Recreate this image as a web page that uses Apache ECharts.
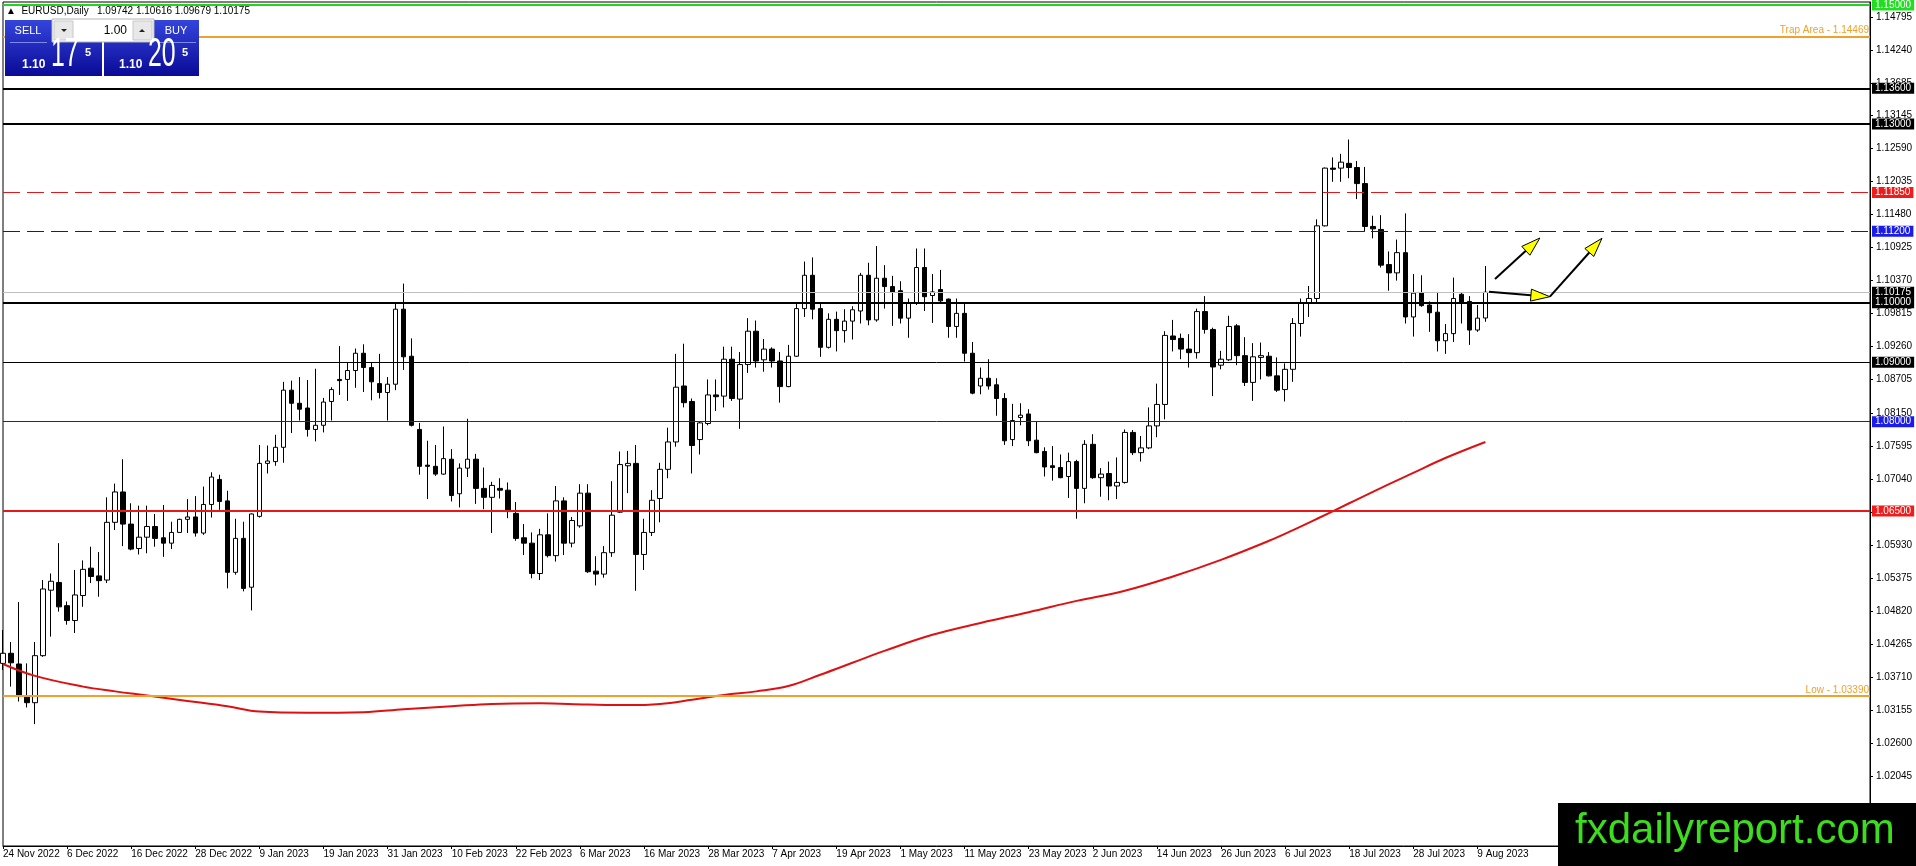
<!DOCTYPE html>
<html>
<head>
<meta charset="utf-8">
<title>EURUSD Daily</title>
<script src="https://cdn.jsdelivr.net/npm/echarts@6.0.0/dist/echarts.min.js"></script>
<style>
  html, body { margin: 0; padding: 0; background: #fff; }
  #main { width: 1916px; height: 866px; }
</style>
</head>
<body>
<div id="main"></div>
<script>
// EURUSD daily candles, 24 Nov 2022 .. 10 Aug 2023
var openPrices = [
  1.0394,1.0411,1.0393,1.0339,1.0328,1.0407,1.0517,1.0530,1.0491,1.0466,
  1.0508,1.0554,1.0541,1.0534,1.0631,1.0682,1.0628,1.0587,1.0606,1.0624,
  1.0605,1.0596,1.0614,1.0636,1.0640,1.0613,1.0661,1.0703,1.0667,1.0547,
  1.0604,1.0522,1.0641,1.0730,1.0733,1.0757,1.0853,1.0831,1.0823,1.0787,
  1.0794,1.0834,1.0871,1.0871,1.0886,1.0915,1.0891,1.0864,1.0849,1.0863,
  1.0989,1.0910,1.0787,1.0727,1.0725,1.0712,1.0737,1.0679,1.0722,1.0737,
  1.0688,1.0673,1.0688,1.0685,1.0646,1.0605,1.0596,1.0545,1.0610,1.0575,
  1.0667,1.0596,1.0625,1.0680,1.0549,1.0544,1.0580,1.0648,1.0726,1.0730,
  1.0577,1.0614,1.0671,1.0720,1.0766,1.0860,1.0834,1.0770,1.0797,1.0845,
  1.0843,1.0905,1.0838,1.0896,1.0952,1.0904,1.0922,1.0902,1.0859,1.0910,
  1.0990,1.1046,1.0990,1.0925,1.0972,1.0953,1.0969,1.0986,1.1046,1.0971,
  1.1041,1.1027,1.1020,1.0974,1.1000,1.1059,1.1012,1.1022,1.1006,1.0960,
  1.0982,1.0915,1.0860,1.0873,1.0862,1.0839,1.0770,1.0807,1.0813,1.0769,
  1.0750,1.0726,1.0723,1.0708,1.0733,1.0688,1.0762,1.0706,1.0713,1.0692,
  1.0698,1.0782,1.0748,1.0756,1.0793,1.0829,1.0944,1.0940,1.0922,1.0916,
  1.0985,1.0955,1.0895,1.0904,1.0961,1.0911,1.0866,1.0908,1.0910,1.0877,
  1.0854,1.0888,1.0965,1.1000,1.1007,1.1129,1.1226,1.1226,1.1234,1.1227,
  1.1200,1.1128,1.1123,1.1064,1.1050,1.1084,1.0976,1.1017,1.0996,1.0984,
  1.0936,1.0948,1.1014,1.1002,1.0954,1.09742
];
var highPrices = [
  1.0450,1.0430,1.0497,1.0394,1.0430,1.0534,1.0545,1.0596,1.0498,1.0551,
  1.0567,1.0590,1.0581,1.0673,1.0696,1.0737,1.0663,1.0659,1.0659,1.0645,
  1.0660,1.0632,1.0637,1.0670,1.0675,1.0691,1.0715,1.0711,1.0684,1.0637,
  1.0632,1.0646,1.0761,1.0760,1.0778,1.0867,1.0869,1.0875,1.0870,1.0889,
  1.0840,1.0858,1.0927,1.0899,1.0923,1.0930,1.0899,1.0914,1.0875,1.0999,
  1.1032,1.0940,1.0798,1.0768,1.0761,1.0792,1.0754,1.0730,1.0805,1.0746,
  1.0723,1.0699,1.0705,1.0698,1.0665,1.0628,1.0614,1.0620,1.0646,1.0692,
  1.0673,1.0640,1.0695,1.0695,1.0574,1.0591,1.0700,1.0750,1.0751,1.0761,
  1.0637,1.0685,1.0731,1.0790,1.0914,1.0931,1.0839,1.0800,1.0871,1.0871,
  1.0926,1.0926,1.0917,1.0974,1.0970,1.0939,1.0925,1.0917,1.0929,1.0998,
  1.1069,1.1076,1.0998,1.0982,1.0985,1.0989,1.0994,1.1050,1.1067,1.1095,
  1.1063,1.1045,1.1036,1.1007,1.1091,1.1091,1.1048,1.1055,1.1007,1.1007,
  1.0999,1.0934,1.0891,1.0905,1.0873,1.0848,1.0830,1.0831,1.0821,1.0800,
  1.0757,1.0759,1.0745,1.0748,1.0736,1.0769,1.0779,1.0722,1.0733,1.0740,
  1.0787,1.0786,1.0776,1.0824,1.0864,1.0952,1.0971,1.0948,1.0947,1.0990,
  1.1011,1.0958,1.0919,1.0978,1.0964,1.0942,1.0932,1.0933,1.0917,1.0908,
  1.0898,1.0974,1.1007,1.1028,1.1140,1.1227,1.1244,1.1250,1.1274,1.1238,
  1.1228,1.1146,1.1147,1.1086,1.1106,1.1150,1.1048,1.1046,1.1002,1.1018,
  1.0964,1.1042,1.1017,1.1011,1.0996,1.10616
];
var lowPrices = [
  1.0383,1.0355,1.0330,1.0320,1.0292,1.0405,1.0439,1.0481,1.0459,1.0445,
  1.0489,1.0529,1.0506,1.0529,1.0618,1.0591,1.0584,1.0577,1.0579,1.0590,
  1.0573,1.0586,1.0614,1.0613,1.0607,1.0610,1.0639,1.0652,1.0520,1.0543,
  1.0515,1.0483,1.0639,1.0713,1.0726,1.0731,1.0781,1.0802,1.0775,1.0767,
  1.0782,1.0802,1.0845,1.0835,1.0857,1.0850,1.0836,1.0839,1.0802,1.0853,
  1.0887,1.0792,1.0711,1.0670,1.0709,1.0711,1.0666,1.0656,1.0707,1.0662,
  1.0653,1.0613,1.0671,1.0638,1.0600,1.0576,1.0537,1.0534,1.0572,1.0565,
  1.0576,1.0589,1.0622,1.0546,1.0525,1.0538,1.0573,1.0647,1.0680,1.0516,
  1.0551,1.0608,1.0631,1.0705,1.0758,1.0824,1.0713,1.0745,1.0794,1.0818,
  1.0824,1.0835,1.0788,1.0882,1.0891,1.0884,1.0891,1.0832,1.0858,1.0909,
  1.0976,1.0972,1.0909,1.0923,1.0918,1.0933,1.0938,1.0965,1.0962,1.0968,
  1.0990,1.0961,1.0965,1.0941,1.0996,1.0986,1.0966,1.1000,1.0941,1.0941,
  1.0901,1.0846,1.0846,1.0854,1.0810,1.0761,1.0759,1.0794,1.0759,1.0747,
  1.0708,1.0701,1.0705,1.0672,1.0637,1.0663,1.0704,1.0674,1.0668,1.0670,
  1.0696,1.0744,1.0733,1.0754,1.0774,1.0804,1.0918,1.0905,1.0891,1.0906,
  1.0948,1.0843,1.0888,1.0902,1.0895,1.0860,1.0835,1.0871,1.0876,1.0850,
  1.0834,1.0867,1.0943,1.0976,1.1000,1.1128,1.1203,1.1203,1.1209,1.1174,
  1.1119,1.1108,1.1059,1.1020,1.1037,1.0965,1.0943,1.0993,1.0951,1.0918,
  1.0914,1.0934,1.0965,1.0929,1.0951,1.09679
];
var closePrices = [
  1.0411,1.0395,1.0341,1.0328,1.0407,1.0519,1.0532,1.0489,1.0466,1.0509,
  1.0552,1.0540,1.0533,1.0631,1.0682,1.0628,1.0586,1.0606,1.0624,1.0604,
  1.0596,1.0614,1.0636,1.0640,1.0613,1.0661,1.0707,1.0666,1.0547,1.0604,
  1.0520,1.0645,1.0730,1.0734,1.0757,1.0853,1.0831,1.0821,1.0787,1.0794,
  1.0833,1.0854,1.0869,1.0886,1.0915,1.0891,1.0867,1.0849,1.0863,1.0989,
  1.0909,1.0794,1.0725,1.0725,1.0712,1.0738,1.0676,1.0722,1.0737,1.0688,
  1.0673,1.0693,1.0685,1.0649,1.0604,1.0596,1.0545,1.0610,1.0575,1.0667,
  1.0596,1.0634,1.0680,1.0548,1.0544,1.0580,1.0643,1.0728,1.0730,1.0577,
  1.0614,1.0668,1.0720,1.0766,1.0858,1.0832,1.0760,1.0798,1.0845,1.0842,
  1.0905,1.0839,1.0896,1.0952,1.0902,1.0922,1.0902,1.0859,1.0910,1.0990,
  1.1046,1.0989,1.0925,1.0972,1.0953,1.0969,1.0988,1.1046,1.0971,1.1041,
  1.1027,1.1017,1.0974,1.0999,1.1059,1.1010,1.1018,1.1003,1.0960,1.0982,
  1.0915,1.0848,1.0873,1.0860,1.0839,1.0768,1.0802,1.0811,1.0768,1.0748,
  1.0724,1.0723,1.0706,1.0733,1.0688,1.0762,1.0706,1.0712,1.0692,1.0698,
  1.0782,1.0748,1.0756,1.0793,1.0829,1.0945,1.0938,1.0922,1.0916,1.0985,
  1.0955,1.0892,1.0905,1.0960,1.0911,1.0866,1.0909,1.0911,1.0877,1.0853,
  1.0888,1.0965,1.0999,1.1007,1.1129,1.1226,1.1224,1.1236,1.1227,1.1200,
  1.1128,1.1124,1.1063,1.1050,1.1084,1.0976,1.1016,1.0995,1.0983,1.0936,
  1.0948,1.1007,1.1000,1.0954,1.0974,1.10175
];

// red moving average, read at a few bars
var maIndex = [0,4,10,14,18,23,28,32,38,45,50,56,61,67,73,78,82,86,90,94,98,102,106,110,116,122,128,134,140,146,152,158,161,164,168,172,176,180,185];
var maValue = [1.0393,1.0373,1.0355,1.0347,1.0340,1.0331,1.0322,1.0313,1.0311,1.0312,1.0317,1.0322,1.0326,1.0327,1.0325,1.0324,1.0326,1.0333,1.0341,1.0347,1.0356,1.0375,1.0395,1.0415,1.0442,1.0462,1.0480,1.0499,1.0516,1.0540,1.0568,1.0600,1.0618,1.0637,1.0663,1.0689,1.0714,1.0739,1.0766];

// horizontal levels drawn on the chart
var levelPrices = [1.15000, 1.14469, 1.13600, 1.13000, 1.11850, 1.11200, 1.10175, 1.10000, 1.09000, 1.08000, 1.06500, 1.03390];
var levelNames = ['', 'Trap Area - 1.14469', '', '', '', '', '', '', '', '', '', 'Low - 1.03390'];

// price scale labels on the right
var yTickValues = [1.14795, 1.14240, 1.13685, 1.13145, 1.12590, 1.12035, 1.11480, 1.10925, 1.10370, 1.09815,
  1.09260, 1.08705, 1.08150, 1.07595, 1.07040, 1.06485, 1.05930, 1.05375, 1.04820, 1.04265,
  1.03710, 1.03155, 1.02600, 1.02045];

// arrows: [bar from, price from, bar to, price to]
var arrowLines = [
  [186.2, 1.10397, 191.8, 1.11086],
  [185.45, 1.10184, 193.05, 1.10100],
  [193.05, 1.10100, 199.55, 1.11081]
];

var header = '\u25B2  EURUSD,Daily   1.09742 1.10616 1.09679 1.10175';
var sellPrice = ['1.10', '17', '5'];
var buyPrice = ['1.10', '20', '5'];
var siteName = 'fxdailyreport.com';

var nBars = 234;   // chart keeps empty space after last candle
var nData = openPrices.length;
var months = ['Jan','Feb','Mar','Apr','May','Jun','Jul','Aug','Sep','Oct','Nov','Dec'];
var dates = [];
var d = new Date(Date.UTC(2022, 10, 24));
while (dates.length < nBars) {
  var wd = d.getUTCDay();
  if (wd !== 0 && wd !== 6) {
    dates.push(d.getUTCDate() + ' ' + months[d.getUTCMonth()] + ' ' + d.getUTCFullYear());
  }
  d.setUTCDate(d.getUTCDate() + 1);
}

var candles = [];
for (var i = 0; i < nData; i++) {
  candles.push([openPrices[i], closePrices[i], lowPrices[i], highPrices[i]]);
}
var maData = [];
for (var j = 0; j < maIndex.length; j++) {
  maData.push([maIndex[j], maValue[j]]);
}

var FONT = '"Liberation Sans", Arial, sans-serif';
var levelLook = [
  { color: '#1ed61e', width: 2, type: 'solid', box: '#22dd22' },
  { color: '#f0a02c', width: 2, type: 'solid', box: null },
  { color: '#000000', width: 2, type: 'solid', box: '#000000' },
  { color: '#000000', width: 2, type: 'solid', box: '#000000' },
  { color: '#e01a1a', width: 1, type: [17, 7], box: '#f01c1c' },
  { color: '#14149c', width: 1, type: [17, 7], box: '#1c1ce8' },
  { color: '#c0c0c0', width: 1, type: 'solid', box: '#000000' },
  { color: '#000000', width: 2, type: 'solid', box: '#000000' },
  { color: '#000000', width: 1, type: 'solid', box: '#000000' },
  { color: '#1c1cb0', width: 1, type: 'solid', box: '#1c1ce8' },
  { color: '#e81818', width: 2, type: 'solid', box: '#f01c1c' },
  { color: '#f0a02c', width: 2, type: 'solid', box: null }
];

var levelLines = levelPrices.map(function (p, k) {
  var look = levelLook[k];
  var label;
  if (look.box) {
    label = {
      show: true, position: 'end', distance: 2,
      formatter: p.toFixed(5),
      color: '#ffffff', backgroundColor: look.box,
      padding: [1, 3, 0, 3], fontSize: 10, fontFamily: FONT
    };
  } else {
    label = {
      show: true, position: 'insideEndTop', distance: 1,
      formatter: levelNames[k],
      color: look.color, fontSize: 10, fontFamily: FONT
    };
  }
  return {
    yAxis: p,
    lineStyle: { color: look.color, width: look.width, type: look.type },
    label: label
  };
});

var blueFill = new echarts.graphic.LinearGradient(0, 0, 0, 1, [
  { offset: 0, color: '#3445dc' },
  { offset: 1, color: '#0a0a96' }
]);

function priceTexts(p, x0) {
  return [
    { type: 'text', z: 110, style: { text: p[0], x: x0, y: 71, fill: '#fff', font: 'bold 12px ' + FONT, verticalAlign: 'bottom' } },
    { type: 'text', z: 110, x: x0 + 29, y: 75, scaleX: 0.62, style: { text: p[1], x: 0, y: 0, fill: '#fff', font: '40px ' + FONT, verticalAlign: 'bottom' } },
    { type: 'text', z: 110, style: { text: p[2], x: x0 + 63, y: 58, fill: '#fff', font: 'bold 11px ' + FONT, verticalAlign: 'bottom' } }
  ];
}

var graphics = [
  { type: 'text', z: 110, style: { text: header, x: 6, y: 11, fill: '#000', font: '10px ' + FONT, verticalAlign: 'middle' } },
  { type: 'rect', z: 100, shape: { x: 5, y: 20, width: 97, height: 56 }, style: { fill: blueFill } },
  { type: 'rect', z: 100, shape: { x: 104, y: 20, width: 95, height: 56 }, style: { fill: blueFill } },
  { type: 'rect', z: 101, shape: { x: 52, y: 19, width: 102, height: 23 }, style: { fill: '#ffffff', stroke: '#b4b4b4', lineWidth: 1 } },
  { type: 'rect', z: 102, shape: { x: 54, y: 21, width: 19, height: 19 }, style: { fill: '#e8e8e8', stroke: '#c8c8c8' } },
  { type: 'rect', z: 102, shape: { x: 133, y: 21, width: 19, height: 19 }, style: { fill: '#e8e8e8', stroke: '#c8c8c8' } },
  { type: 'polygon', z: 103, shape: { points: [[61, 29], [67, 29], [64, 32]] }, style: { fill: '#222' } },
  { type: 'polygon', z: 103, shape: { points: [[139, 32], [145, 32], [142, 29]] }, style: { fill: '#222' } },
  { type: 'text', z: 103, style: { text: '1.00', x: 127, y: 31, fill: '#000', font: '12px ' + FONT, align: 'right', verticalAlign: 'middle' } },
  { type: 'text', z: 103, style: { text: 'SELL', x: 28, y: 31, fill: '#fff', font: '11px ' + FONT, align: 'center', verticalAlign: 'middle' } },
  { type: 'text', z: 103, style: { text: 'BUY', x: 176, y: 31, fill: '#fff', font: '11px ' + FONT, align: 'center', verticalAlign: 'middle' } },
  { type: 'line', z: 103, shape: { x1: 10, y1: 42.5, x2: 47, y2: 42.5 }, style: { stroke: '#7c8ae6', lineWidth: 1 } },
  { type: 'line', z: 103, shape: { x1: 157, y1: 42.5, x2: 196, y2: 42.5 }, style: { stroke: '#7c8ae6', lineWidth: 1 } },
  // watermark
  { type: 'rect', z: 120, shape: { x: 1558, y: 803, width: 358, height: 63 }, style: { fill: '#000000' } },
  { type: 'text', z: 121, style: { text: siteName, x: 1575, y: 852, fill: '#3ddc1e', font: '42px ' + FONT, verticalAlign: 'bottom' } }
].concat(priceTexts(sellPrice, 22)).concat(priceTexts(buyPrice, 119));

var chart = echarts.init(document.getElementById('main'), null, { renderer: 'canvas' });

var option = {
  animation: false,
  backgroundColor: '#ffffff',
  grid: {
    left: 3, right: 46, top: 2, bottom: 20,
    show: true, borderColor: '#000', borderWidth: 1, backgroundColor: '#fff'
  },
  xAxis: [{
    type: 'category',
    data: dates,
    boundaryGap: false,
    axisLine: { onZero: false, lineStyle: { color: '#000', width: 1 } },
    axisTick: {
      show: true, length: 3, lineStyle: { color: '#000' },
      interval: function (idx) { return idx % 8 === 0 && idx < nData; }
    },
    axisLabel: {
      interval: function (idx) { return idx % 8 === 0 && idx < nData; },
      align: 'left', margin: 3, color: '#000', fontSize: 10, fontFamily: FONT
    },
    splitLine: { show: false }
  }, {
    type: 'value', min: 0, max: nBars - 1, show: false,
    axisLine: { onZero: false }
  }],
  yAxis: {
    type: 'value',
    position: 'right',
    min: 1.008727,
    max: 1.150504,
    axisLine: { show: true, onZero: false, lineStyle: { color: '#000', width: 1 } },
    axisTick: { show: true, inside: false, length: 3, customValues: yTickValues, lineStyle: { color: '#000' } },
    axisLabel: {
      customValues: yTickValues, margin: 6, color: '#000', fontSize: 10, fontFamily: FONT,
      formatter: function (v) { return v.toFixed(5); }
    },
    splitLine: { show: false }
  },
  graphic: graphics,
  series: [{
    type: 'candlestick',
    data: candles,
    barWidth: 5,
    itemStyle: {
      color: '#ffffff', color0: '#000000',
      borderColor: '#000000', borderColor0: '#000000', borderWidth: 1
    },
    markLine: {
      silent: true,
      symbol: 'none',
      precision: 5,
      animation: false,
      data: levelLines
    }
  }, {
    type: 'line',
    data: maData,
    smooth: 0.4,
    showSymbol: false,
    lineStyle: { color: '#dd1111', width: 2 },
    z: 3
  }, {
    type: 'custom',
    xAxisIndex: 1,
    data: arrowLines,
    z: 6,
    encode: { x: [0, 2], y: [1, 3] },
    renderItem: function (params, api) {
      var a = api.coord([api.value(0), api.value(1)]);
      var b = api.coord([api.value(2), api.value(3)]);
      var dx = b[0] - a[0], dy = b[1] - a[1];
      var len = Math.sqrt(dx * dx + dy * dy);
      var ux = dx / len, uy = dy / len;
      var hl = 19, hw = 6;
      var bx = b[0] - ux * hl, by = b[1] - uy * hl;
      return {
        type: 'group',
        children: [{
          type: 'line',
          shape: { x1: a[0], y1: a[1], x2: bx, y2: by },
          style: { stroke: '#000', lineWidth: 2 }
        }, {
          type: 'polygon',
          shape: { points: [[b[0], b[1]], [bx - uy * hw, by + ux * hw], [bx + uy * hw, by - ux * hw]] },
          style: { fill: '#ffff00', stroke: '#000', lineWidth: 1 }
        }]
      };
    }
  }]
};

chart.setOption(option);
</script>
</body>
</html>
